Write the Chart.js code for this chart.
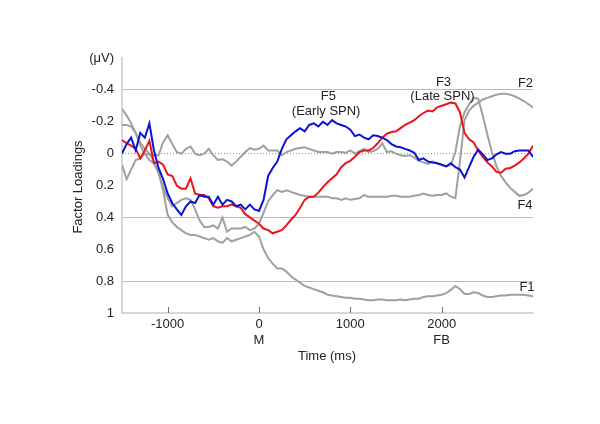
<!DOCTYPE html>
<html>
<head>
<meta charset="utf-8">
<script src="https://cdn.jsdelivr.net/npm/chart.js@4/dist/chart.umd.min.js"></script>
<style>
  html, body { margin: 0; padding: 0; background: #fff; }
  #wrap { width: 600px; height: 424px; }
</style>
</head>
<body>
<div id="wrap"><canvas id="myChart" width="600" height="424"></canvas></div>
<script>
// Eje de tiempo (ms), muestreo cada 50 ms de -1500 a 3000
const times = Array.from({ length: 91 }, (_, i) => -1500 + i * 50);

// F5 (Early SPN) - azul
const f5 = [
  0.0, -0.06, -0.10, -0.02, -0.13, -0.10, -0.19, -0.02, 0.09, 0.16,
  0.25, 0.31, 0.35, 0.385, 0.33, 0.30, 0.31, 0.26, 0.27, 0.27,
  0.32, 0.27, 0.32, 0.29, 0.30, 0.33, 0.32, 0.35, 0.32, 0.35,
  0.36, 0.29, 0.14, 0.09, 0.05, -0.03, -0.09, -0.115, -0.14, -0.16,
  -0.14, -0.18, -0.19, -0.17, -0.20, -0.18, -0.21, -0.19, -0.18, -0.17,
  -0.15, -0.11, -0.12, -0.10, -0.09, -0.115, -0.11, -0.10, -0.085, -0.06,
  -0.045, -0.04, -0.03, -0.02, -0.005, 0.04, 0.03, 0.05, 0.055, 0.06,
  0.07, 0.08, 0.06, 0.085, 0.10, 0.15, 0.085, 0.02, -0.025, 0.005,
  0.04, 0.03, 0.005, -0.01, 0.0, 0.0, -0.015, -0.02, -0.02, -0.02,
  0.02
];

// F3 (Late SPN) - rojo
const f3 = [
  -0.085, -0.065, -0.05, -0.03, 0.03, -0.02, -0.08, 0.06, 0.05, 0.07,
  0.13, 0.14, 0.20, 0.22, 0.22, 0.155, 0.25, 0.26, 0.26, 0.28,
  0.33, 0.34, 0.33, 0.33, 0.32, 0.33, 0.34, 0.38, 0.40, 0.42,
  0.44, 0.47, 0.48, 0.50, 0.49, 0.48, 0.45, 0.415, 0.385, 0.34,
  0.29, 0.27, 0.27, 0.245, 0.21, 0.18, 0.155, 0.13, 0.085, 0.06,
  0.045, 0.02, -0.01, -0.02, -0.02, -0.035, -0.065, -0.10, -0.125, -0.136,
  -0.14, -0.16, -0.18, -0.195, -0.21, -0.235, -0.255, -0.27, -0.265, -0.29,
  -0.30, -0.31, -0.32, -0.315, -0.26, -0.13, -0.09, -0.07, -0.02, 0.02,
  0.055, 0.08, 0.115, 0.12, 0.095, 0.09, 0.075, 0.055, 0.03, 0.0,
  -0.05
];

// F1 - gris
const f1 = [
  -0.28, -0.24, -0.19, -0.13, -0.07, -0.03, 0.0, 0.05, 0.12, 0.23,
  0.385, 0.43, 0.46, 0.48, 0.50, 0.51, 0.51, 0.52, 0.53, 0.54,
  0.53, 0.55, 0.56, 0.53, 0.55, 0.54, 0.53, 0.52, 0.51, 0.49,
  0.52, 0.60, 0.655, 0.69, 0.72, 0.72, 0.74, 0.77, 0.79, 0.81,
  0.83, 0.84, 0.85, 0.86, 0.87, 0.885, 0.89, 0.895, 0.90, 0.905,
  0.905, 0.91, 0.91, 0.915, 0.92, 0.92, 0.915, 0.915, 0.92, 0.92,
  0.92, 0.915, 0.92, 0.915, 0.91, 0.91, 0.90, 0.895, 0.895, 0.89,
  0.885, 0.875, 0.855, 0.83, 0.85, 0.88, 0.88, 0.87, 0.875, 0.89,
  0.90, 0.90, 0.895, 0.89, 0.89, 0.885, 0.885, 0.885, 0.885, 0.89,
  0.895
];

// F2 - gris
const f2 = [
  -0.18, -0.18, -0.17, -0.13, -0.05, 0.0, 0.04, 0.06, 0.12, 0.21,
  0.28, 0.33, 0.31, 0.29, 0.28, 0.29, 0.35, 0.42, 0.46, 0.46,
  0.45, 0.47, 0.40, 0.49, 0.47, 0.47, 0.47, 0.46, 0.48, 0.47,
  0.44, 0.37, 0.30, 0.26, 0.23, 0.24, 0.23, 0.24, 0.25, 0.26,
  0.265, 0.27, 0.27, 0.27, 0.27, 0.27, 0.28, 0.28, 0.29, 0.28,
  0.29, 0.285, 0.28, 0.26, 0.27, 0.27, 0.27, 0.27, 0.27, 0.265,
  0.265, 0.27, 0.27, 0.27, 0.265, 0.26, 0.25, 0.26, 0.265, 0.26,
  0.26, 0.25, 0.27, 0.28, 0.05, -0.21, -0.27, -0.30, -0.32, -0.34,
  -0.35, -0.36, -0.37, -0.375, -0.376, -0.37, -0.36, -0.345, -0.33, -0.31,
  -0.29
];

// F4 - gris
const f4 = [
  0.07, 0.16, 0.10, 0.04, 0.03, 0.0, 0.005, 0.01, 0.01, -0.07,
  -0.115, -0.06, -0.01, 0.0, -0.03, -0.045, 0.0, 0.01, 0.0, -0.03,
  0.01, 0.04, 0.035, 0.05, 0.075, 0.05, 0.02, -0.01, -0.035, -0.025,
  -0.03, -0.05, -0.02, -0.02, -0.02, 0.01, -0.01, -0.02, -0.03, -0.035,
  -0.04, -0.03, -0.02, -0.01, -0.01, -0.01, 0.0, -0.01, -0.01, -0.005,
  -0.02, 0.0, -0.015, -0.03, -0.01, -0.015, -0.03, -0.065, -0.01, -0.015,
  0.0, 0.01, 0.015, 0.01, 0.025, 0.045, 0.055, 0.065, 0.05, 0.06,
  0.07, 0.08, 0.07, -0.01, -0.17, -0.26, -0.31, -0.35, -0.345, -0.24,
  -0.12, -0.01, 0.08, 0.14, 0.18, 0.215, 0.24, 0.265, 0.26, 0.245,
  0.22
];

// Ticks del eje X
const xTickValues = [-1000, 0, 1000, 2000];
const xTickLabels = [['-1000'], ['0', 'M'], ['1000'], ['2000', 'FB']];
const solidGridValues = [-0.4, 0.4, 0.8];

// Etiquetas de los factores (en unidades de datos)
const factorLabels = [
  { text: 'F5', x: 760, y: -0.357 },
  { text: '(Early SPN)', x: 735, y: -0.263 },
  { text: 'F3', x: 2020, y: -0.445 },
  { text: '(Late SPN)', x: 2009, y: -0.361 },
  { text: 'F2', x: 2918, y: -0.441 },
  { text: 'F4', x: 2912, y: 0.322 },
  { text: 'F1', x: 2934, y: 0.839 }
];

const FONT = '"Liberation Sans", Arial, sans-serif';
const toPoints = arr => arr.map((v, i) => ({ x: times[i], y: v }));

function lineSet(label, values, color) {
  return {
    label: label,
    data: toPoints(values),
    borderColor: color,
    borderWidth: 2,
    pointRadius: 0,
    tension: 0,
    fill: false
  };
}

// Plugin para textos, títulos y marcas del eje X
const extrasPlugin = {
  id: 'extras',
  afterDraw(chart) {
    const ctx = chart.ctx;
    const xs = chart.scales.x;
    const ys = chart.scales.y;
    ctx.save();

    // marcas hacia dentro en el eje X
    ctx.strokeStyle = '#707070';
    ctx.lineWidth = 1;
    xTickValues.forEach(v => {
      const px = Math.round(xs.getPixelForValue(v)) + 0.5;
      ctx.beginPath();
      ctx.moveTo(px, ys.bottom - 6);
      ctx.lineTo(px, ys.bottom);
      ctx.stroke();
    });

    ctx.fillStyle = '#222';
    ctx.font = '13px ' + FONT;
    ctx.textAlign = 'center';
    ctx.textBaseline = 'middle';
    factorLabels.forEach(l => {
      ctx.fillText(l.text, xs.getPixelForValue(l.x), ys.getPixelForValue(l.y));
    });

    // títulos de ejes
    ctx.fillText('Time (ms)', 327, 356);
    ctx.translate(78, 187);
    ctx.rotate(-Math.PI / 2);
    ctx.fillText('Factor Loadings', 0, 0);
    ctx.restore();
  }
};

const chartCtx = document.getElementById('myChart').getContext('2d');
const chart = new Chart(chartCtx, {
  type: 'line',
  data: {
    datasets: [
      lineSet('F5', f5, '#0a14d2'),
      lineSet('F3', f3, '#e8141e'),
      lineSet('F1', f1, '#a0a0a0'),
      lineSet('F2', f2, '#a0a0a0'),
      lineSet('F4', f4, '#a0a0a0'),
      {
        label: 'cero',
        data: [{ x: -1500, y: 0 }, { x: 3000, y: 0 }],
        borderColor: '#8c8c8c',
        borderWidth: 1,
        borderDash: [1, 2],
        pointRadius: 0
      }
    ]
  },
  options: {
    responsive: false,
    animation: false,
    layout: { padding: { top: 58, right: 67, bottom: 0, left: 0 } },
    plugins: {
      legend: { display: false },
      tooltip: { enabled: false }
    },
    scales: {
      x: {
        type: 'linear',
        min: -1500,
        max: 3000,
        afterBuildTicks: scale => { scale.ticks = xTickValues.map(v => ({ value: v })); },
        afterFit: scale => { scale.height = 111; },
        grid: { display: false, drawTicks: false },
        border: { display: true, color: '#d6d6d6', width: 2 },
        ticks: {
          padding: 4,
          color: '#222',
          font: { family: FONT, size: 13 },
          maxRotation: 0,
          callback: (value, index) => xTickLabels[index]
        }
      },
      y: {
        reverse: true,
        min: -0.6,
        max: 1,
        afterFit: scale => { scale.width = 122; },
        grid: {
          drawTicks: false,
          lineWidth: 1,
          color: c => {
            const v = Math.round(c.tick.value * 10) / 10;
            return solidGridValues.includes(v) ? '#b9b9b9' : 'rgba(0,0,0,0)';
          }
        },
        border: { display: true, color: '#d6d6d6', width: 2 },
        ticks: {
          stepSize: 0.2,
          padding: 8,
          color: '#222',
          font: { family: FONT, size: 13 },
          callback: value => {
            const v = Math.round(value * 10) / 10;
            return v === -0.6 ? '(μV)' : String(v);
          }
        }
      }
    }
  },
  plugins: [extrasPlugin]
});
</script>
</body>
</html>
